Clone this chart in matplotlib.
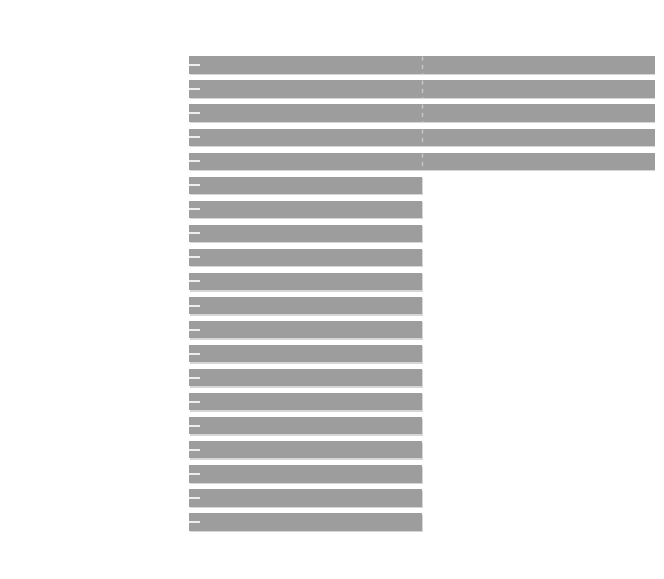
import matplotlib
matplotlib.use("Agg")
import matplotlib.pyplot as plt
import matplotlib.patheffects as pe
import numpy as np

# Categories (top to bottom) and the two stacked segments of each bar
categories = [f"Item {i + 1}" for i in range(20)]
base_values = [1, 1, 1, 1, 1, 1, 1, 1, 1, 1, 1, 1, 1, 1, 1, 1, 1, 1, 1, 1]
extra_values = [1, 1, 1, 1, 1, 0, 0, 0, 0, 0, 0, 0, 0, 0, 0, 0, 0, 0, 0, 0]

bar_color = "#9d9d9d"
shadow = [pe.SimplePatchShadow(offset=(1, -1), shadow_rgbFace="#d6d6d6", alpha=1.0),
          pe.Normal()]

fig = plt.figure(figsize=(6.64, 5.79), dpi=100)
ax = fig.add_axes([189 / 664, 1 - 534 / 579, 466 / 664, 481 / 579])

y = np.arange(len(categories))
ax.barh(y, base_values, height=0.72, color=bar_color, linewidth=0,
        path_effects=shadow)
ax.barh(y, extra_values, left=base_values, height=0.72, color=bar_color,
        linewidth=0, path_effects=shadow)

# Dashed divider where the second segment begins
for yi, b, e in zip(y, base_values, extra_values):
    if e > 0:
        ax.vlines(b, yi - 0.36, yi + 0.36, colors="#c8c8c8", linestyles=(0, (3, 3)),
                  linewidth=1.0)

ax.set_xlim(0, 2)
ax.set_ylim(len(categories) - 0.5, -0.5)
ax.set_yticks(y)
ax.set_yticklabels(categories, color="white")
ax.tick_params(axis="y", direction="in", length=8, width=1.2, color="white",
               zorder=5)
ax.tick_params(axis="x", bottom=False, labelbottom=False)
for s in ax.spines.values():
    s.set_visible(False)
ax.set_axisbelow(False)

fig.savefig("out.png", dpi=100)
